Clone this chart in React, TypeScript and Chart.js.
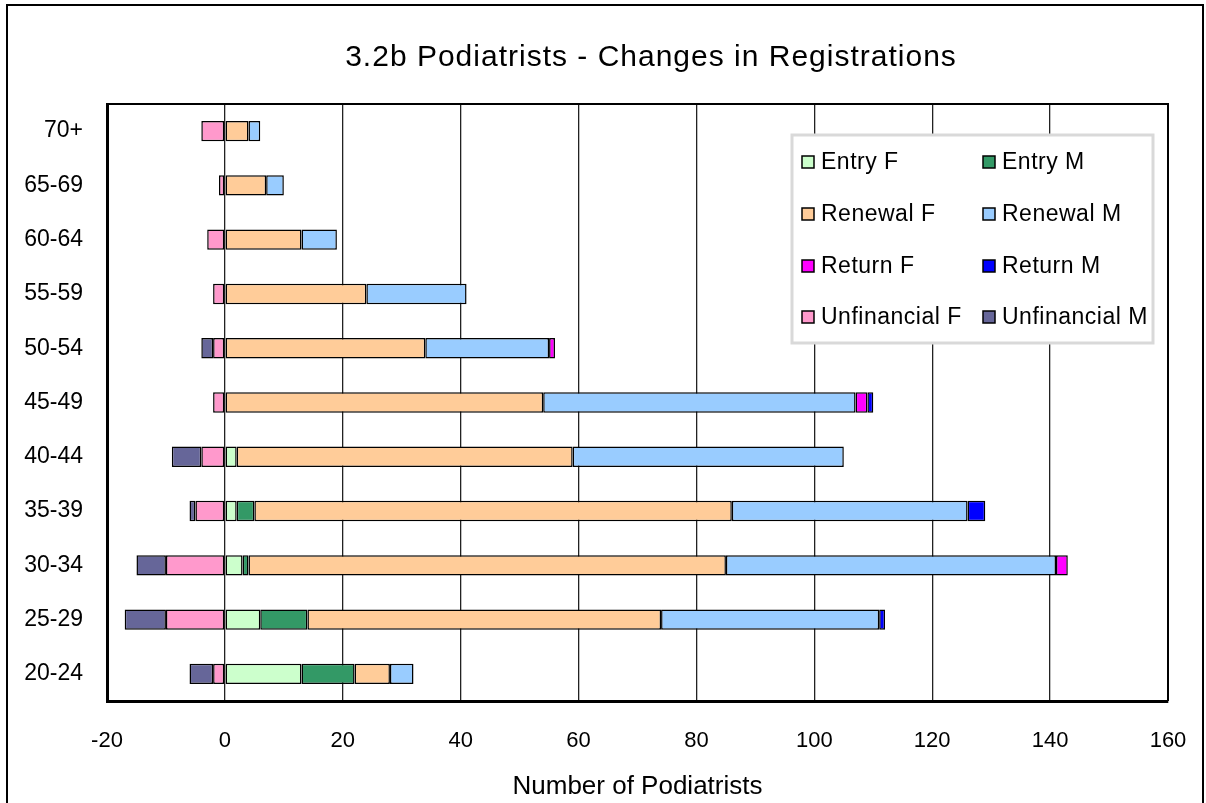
import React, { useEffect, useRef } from 'react';
import { Chart, registerables } from 'chart.js';

Chart.register(...registerables);

// ---- Data (bottom to top) ----
const categories = ['20-24', '25-29', '30-34', '35-39', '40-44', '45-49', '50-54', '55-59', '60-64', '65-69', '70+'];
const entryF = [13, 6, 3, 2, 2, null, null, null, null, null, null];
const entryM = [9, 8, 1, 3, null, null, null, null, null, null, null];
const renewalF = [6, 60, 81, 81, 57, 54, 34, 24, 13, 7, 4];
const renewalM = [4, 37, 56, 40, 46, 53, 21, 17, 6, 3, 2];
const returnF = [null, null, 2, null, null, 2, 1, null, null, null, null];
const returnM = [null, 1, null, 3, null, 1, null, null, null, null, null];
const unfinancialF = [-2, -10, -10, -5, -4, -2, -2, -2, -3, -1, -4];
const unfinancialM = [-4, -7, -5, -1, -5, null, -2, null, null, null, null];

const seriesNames = ['Entry F', 'Entry M', 'Renewal F', 'Renewal M', 'Return F', 'Return M', 'Unfinancial F', 'Unfinancial M'];
const seriesValues = [entryF, entryM, renewalF, renewalM, returnF, returnM, unfinancialF, unfinancialM];
const seriesColors = ['#CCFFCC', '#339966', '#FFCC99', '#99CCFF', '#FF00FF', '#0000FF', '#FF99CC', '#666699'];

const xMin = -20;
const xMax = 160;
const xStep = 20;

const chartTitle = '3.2b Podiatrists - Changes in Registrations';
const xAxisTitle = 'Number of Podiatrists';

const FONT = "'Liberation Sans', Arial, sans-serif";

const decorPlugin = {
  id: 'decor',
  afterDraw(chart: any) {
    const { ctx, chartArea: a } = chart;
    ctx.save();
    // top & right frame of plot area
    ctx.strokeStyle = '#000';
    ctx.lineWidth = 2;
    ctx.beginPath();
    ctx.moveTo(a.left, a.top);
    ctx.lineTo(a.right, a.top);
    ctx.lineTo(a.right, a.bottom);
    ctx.stroke();

    // title
    ctx.fillStyle = '#000';
    ctx.font = `30px ${FONT}`;
    ctx.textAlign = 'center';
    ctx.textBaseline = 'alphabetic';
    (ctx as any).letterSpacing = '1px';
    ctx.fillText(chartTitle, 651, 66);
    (ctx as any).letterSpacing = '0px';

    // legend box
    const lx = 792, ly = 135, lw = 361, lh = 208;
    ctx.fillStyle = '#fff';
    ctx.fillRect(lx, ly, lw, lh);
    ctx.strokeStyle = '#d9d9d9';
    ctx.lineWidth = 3;
    ctx.strokeRect(lx, ly, lw, lh);

    const rowY = [162, 214, 266, 317];
    const colBox = [802, 983];
    const colText = [821, 1002];
    ctx.font = `23px ${FONT}`;
    ctx.textAlign = 'left';
    ctx.textBaseline = 'middle';
    chart.data.datasets.forEach((ds: any, i: number) => {
      const r = Math.floor(i / 2);
      const c = i % 2;
      const y = rowY[r];
      ctx.fillStyle = ds.backgroundColor;
      ctx.fillRect(colBox[c], y - 6, 12, 12);
      ctx.strokeStyle = '#000';
      ctx.lineWidth = 1.5;
      ctx.strokeRect(colBox[c], y - 6, 12, 12);
      ctx.fillStyle = '#000';
      (ctx as any).letterSpacing = '0.5px';
      ctx.fillText(ds.label, colText[c], y + 1);
      (ctx as any).letterSpacing = '0px';
    });
    ctx.restore();
  },
};

export default function App() {
  const canvasRef = useRef<HTMLCanvasElement | null>(null);

  useEffect(() => {
    const canvas = canvasRef.current;
    if (!canvas) return;
    const chart = new Chart(canvas, {
      type: 'bar',
      data: {
        labels: categories,
        datasets: seriesNames.map((name, i) => ({
          label: name,
          data: seriesValues[i] as any,
          backgroundColor: seriesColors[i],
          borderColor: '#000',
          borderWidth: 1.5,
          borderSkipped: false,
          categoryPercentage: 1,
          barPercentage: 0.375,
        })),
      },
      options: {
        indexAxis: 'y',
        responsive: false,
        animation: false,
        devicePixelRatio: 1,
        layout: { padding: { top: 104, right: 38, left: 0, bottom: 0 } },
        plugins: {
          legend: { display: false },
          title: { display: false },
          tooltip: { enabled: false },
        },
        scales: {
          x: {
            type: 'linear',
            stacked: true,
            min: xMin,
            max: xMax,
            ticks: { stepSize: xStep, color: '#000', font: { family: FONT, size: 22 }, padding: 27 },
            grid: { color: '#222', lineWidth: 1.3, drawTicks: false },
            border: { color: '#000', width: 3 },
            title: {
              display: true,
              text: xAxisTitle,
              color: '#000',
              font: { family: FONT, size: 26 },
              padding: { top: 0, bottom: 1 },
            },
            afterFit: (s: any) => {
              s.height = 102;
              s.paddingLeft = 0;
              s.paddingRight = 0;
            },
          },
          y: {
            type: 'category',
            stacked: true,
            reverse: true,
            grid: { display: false, drawTicks: false },
            border: { color: '#000', width: 3 },
            ticks: { color: '#000', font: { family: FONT, size: 23 }, padding: 24 },
            afterFit: (s: any) => {
              s.width = 107;
            },
          },
        },
      } as any,
      plugins: [decorPlugin],
    });
    return () => chart.destroy();
  }, []);

  return (
    <div style={{ position: 'fixed', left: 0, top: 0, width: 1206, height: 803, overflow: 'hidden', background: '#fff' }}>
      <canvas ref={canvasRef} width={1206} height={803} style={{ position: 'absolute', left: 0, top: 0, width: 1206, height: 803 }} />
      <div
        style={{
          position: 'absolute',
          left: 6,
          top: 4,
          width: 1198,
          height: 900,
          border: '2px solid #000',
          boxSizing: 'border-box',
          pointerEvents: 'none',
        }}
      />
    </div>
  );
}
